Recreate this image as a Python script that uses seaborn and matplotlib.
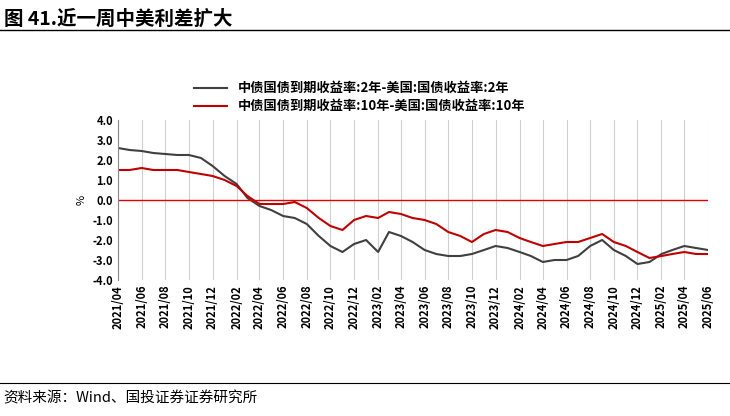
import matplotlib
matplotlib.use("Agg")
import matplotlib.pyplot as plt
import seaborn as sns
import pandas as pd
import numpy as np

plt.rcParams["font.family"] = ["Noto Sans CJK SC", "DejaVu Sans"]

months = pd.date_range("2021-04-01", "2025-06-01", freq="MS")
spread_2y = [2.6,2.5,2.45,2.35,2.3,2.25,2.25,2.1,1.7,1.2,0.8,0.1,-0.3,-0.5,-0.8,-0.9,-1.2,-1.8,-2.3,-2.6,-2.2,-2.0,-2.6,-1.6,-1.8,-2.1,-2.5,-2.7,-2.8,-2.8,-2.7,-2.5,-2.3,-2.4,-2.6,-2.8,-3.1,-3.0,-3.0,-2.8,-2.3,-2.0,-2.5,-2.8,-3.2,-3.1,-2.7,-2.5,-2.3,-2.4,-2.5]
spread_10y = [1.5,1.5,1.6,1.5,1.5,1.5,1.4,1.3,1.2,1.0,0.7,0.2,-0.2,-0.2,-0.2,-0.1,-0.4,-0.9,-1.3,-1.5,-1.0,-0.8,-0.9,-0.6,-0.7,-0.9,-1.0,-1.2,-1.6,-1.8,-2.1,-1.7,-1.5,-1.6,-1.9,-2.1,-2.3,-2.2,-2.1,-2.1,-1.9,-1.7,-2.1,-2.3,-2.6,-2.9,-2.8,-2.7,-2.6,-2.7,-2.7]
label_2y = "中债国债到期收益率:2年-美国:国债收益率:2年"
label_10y = "中债国债到期收益率:10年-美国:国债收益率:10年"

df = pd.DataFrame({"date": list(months)*2,
                   "value": spread_2y + spread_10y,
                   "series": [label_2y]*len(months) + [label_10y]*len(months)})

fig = plt.figure(figsize=(7.30, 4.16), dpi=100)
ax = fig.add_axes([118/730, 1-280/416, 590/730, 160/416])
sns.lineplot(data=df, x="date", y="value", hue="series",
             palette={label_2y: "#404040", label_10y: "#c00000"}, lw=1.5, ax=ax)
ax.axhline(0, color="#e00000", lw=1)
ax.set_ylim(-4, 4)
ax.set_yticks(np.arange(-4, 4.01, 1))
ax.set_yticklabels([f"{v:.1f}" for v in np.arange(-4, 4.01, 1)], fontweight="bold", fontsize=8)
ticks = pd.date_range("2021-04-01", "2025-06-01", freq="2MS")
ax.set_xticks(ticks)
ax.set_xticklabels([t.strftime("%Y/%m") for t in ticks], rotation=90, fontweight="bold", fontsize=8)
ax.set_xlim(months[0], months[-1])
ax.grid(axis="x", color="#d0d0d0", lw=0.8)
ax.set_xlabel("")
ax.set_ylabel("%", fontsize=8)
for s in ax.spines.values():
    s.set_visible(False)
ax.spines["left"].set_visible(True)
ax.spines["left"].set_color("#888888")
ax.tick_params(length=0)
ax.legend(loc="lower left", bbox_to_anchor=(0.12, 1.01), frameon=False,
          prop={"weight": "bold", "size": 9.5}, handlelength=2.5, borderaxespad=0, labelspacing=0.3)

fig.text(0.005, 0.955, "图 41.近一周中美利差扩大", fontsize=14, fontweight="bold", va="center")
fig.add_artist(plt.Line2D([0, 1], [1-30/416]*2, color="black", lw=1))
fig.add_artist(plt.Line2D([0, 1], [1-383/416]*2, color="black", lw=0.8))
fig.text(0.005, 1-398/416, "资料来源：Wind、国投证券证券研究所", fontsize=10.5, style="italic", va="center")
fig.savefig("out.png", dpi=100)
